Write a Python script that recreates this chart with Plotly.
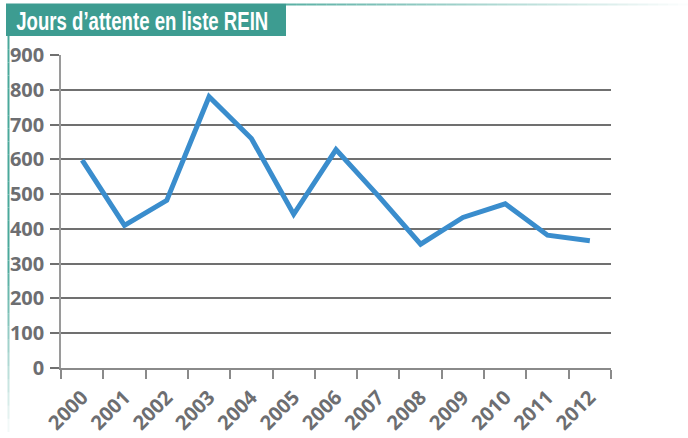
import plotly.graph_objects as go

years = ["2000", "2001", "2002", "2003", "2004", "2005", "2006",
         "2007", "2008", "2009", "2010", "2011", "2012"]
days = [598, 410, 482, 780, 660, 442, 628, 495, 356, 433, 472, 382, 366]
y_ticks = [0, 100, 200, 300, 400, 500, 600, 700, 800, 900]
title_text = "Jours d\u2019attente en liste REIN"

W, H = 688, 438
L, R, T, B = 61, 611, 55, 368  # plot area in pixels

def px(x):
    return (x - L) / (R - L)

def py(y):
    return (B - y) / (B - T)

fig = go.Figure(go.Scatter(
    x=years, y=days, mode="lines",
    line=dict(color="#3a8dcd", width=5), hoverinfo="skip"))

grey = "#6d6e71"
shapes = []
# title box
shapes.append(dict(type="rect", xref="paper", yref="paper",
                   x0=px(6), x1=px(286), y0=py(36), y1=py(3.5),
                   fillcolor="#3d9c91", line_width=0, layer="below"))
# fading top line
n = 40
for i in range(n):
    x0 = 286 + i * (688 - 286) / n
    x1 = 286 + (i + 1) * (688 - 286) / n
    shapes.append(dict(type="rect", xref="paper", yref="paper",
                       x0=px(x0), x1=px(x1), y0=py(5.5), y1=py(3.5),
                       fillcolor="#4aa89b", opacity=max(0.0, 1 - i / n) * 0.9,
                       line_width=0))
# fading left line
m = 30
for i in range(m):
    y0 = 36 + i * (432 - 36) / m
    y1 = 36 + (i + 1) * (432 - 36) / m
    op = 1.0 if i < m * 0.55 else max(0.0, 1 - (i - m * 0.55) / (m * 0.45))
    shapes.append(dict(type="rect", xref="paper", yref="paper",
                       x0=px(7.5), x1=px(9.5), y0=py(y1), y1=py(y0),
                       fillcolor="#4aa89b", opacity=op, line_width=0))

fig.update_layout(
    width=W, height=H,
    margin=dict(l=L, r=W - R, t=T, b=H - B, pad=0, autoexpand=False),
    paper_bgcolor="white", plot_bgcolor="white",
    showlegend=False,
    font=dict(family="Open Sans", color=grey),
    shapes=shapes,
    annotations=[dict(text=title_text, xref="paper", yref="paper",
                      x=px(142), y=py(21), xanchor="center", yanchor="middle",
                      showarrow=False,
                      font=dict(family="Liberation Sans", size=26,
                                color="white", weight="bold"))],
    xaxis=dict(type="category", tickson="boundaries", ticks="outside",
               ticklen=9, tickcolor="#8a8a8a", tickwidth=1.5,
               showgrid=False, showline=True, linecolor="#8a8a8a", linewidth=1.5,
               tickangle=-45, automargin=False, ticklabelstandoff=8,
               tickfont=dict(family="Open Sans", size=20, color=grey, weight="bold"),
               range=[-0.5, 12.5], fixedrange=True),
    yaxis=dict(range=[0, 900], tickvals=y_ticks, ticks="outside", ticklen=9,
               tickcolor="#707070", tickwidth=1.5, automargin=False,
               ticklabelstandoff=2,
               showgrid=True, gridcolor="#707070", gridwidth=1.5,
               showline=True, linecolor="#9a9a9a", linewidth=1.5,
               zeroline=False,
               tickfont=dict(family="Open Sans", size=20, color=grey, weight="bold"),
               fixedrange=True),
)

post = """
document.body.style.margin = '0';
document.body.style.overflow = 'hidden';
var gd = document.getElementById('{plot_id}');
var t = gd.querySelector('.annotation-text');
if (t) { t.setAttribute('textLength', '252'); t.setAttribute('lengthAdjust', 'spacingAndGlyphs'); }
"""

fig.write_html("out.html", post_script=post, config={"displayModeBar": False})
